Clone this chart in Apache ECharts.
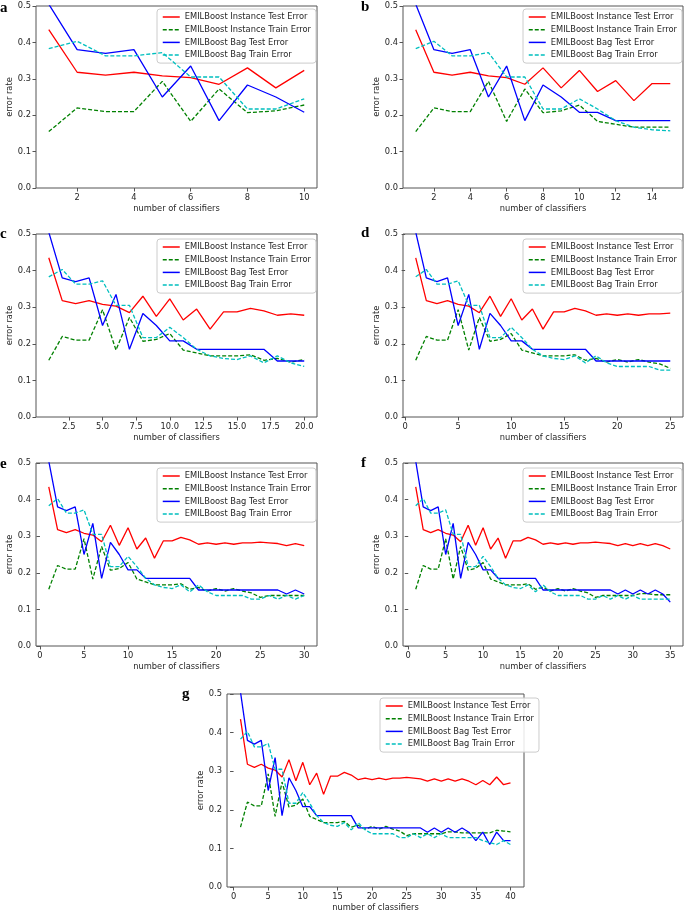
<!DOCTYPE html>
<html>
<head>
<meta charset="utf-8">
<script src="https://cdn.jsdelivr.net/npm/echarts@6/dist/echarts.min.js"></script>
<style>
  html, body { margin: 0; padding: 0; background: #fff; }
  #main { width: 685px; height: 913px; }
</style>
</head>
<body>
<div id="main"></div>
<script>
// error rates for 1..40 classifiers (every panel shows the first n of these)
var instTest = [0.435,0.318,0.31,0.318,0.308,0.303,0.285,0.33,0.275,0.323,
                0.265,0.295,0.24,0.287,0.287,0.297,0.29,0.278,0.282,0.278,
                0.282,0.278,0.282,0.282,0.284,0.282,0.28,0.274,0.28,0.274,
                0.28,0.274,0.28,0.274,0.265,0.276,0.265,0.285,0.265,0.27];
var instTrain = [0.155,0.22,0.21,0.21,0.293,0.183,0.272,0.207,0.212,0.228,
                 0.183,0.175,0.167,0.167,0.167,0.17,0.155,0.16,0.15,0.157,
                 0.15,0.157,0.15,0.145,0.133,0.138,0.138,0.138,0.138,0.138,
                 0.143,0.143,0.14,0.14,0.14,0.14,0.14,0.147,0.145,0.143];
var bagTest = [0.505,0.38,0.37,0.38,0.25,0.335,0.185,0.283,0.25,0.208,
               0.208,0.185,0.185,0.185,0.185,0.185,0.185,0.153,0.153,0.153,
               0.153,0.153,0.153,0.153,0.153,0.153,0.153,0.142,0.153,0.142,
               0.153,0.142,0.153,0.142,0.12,0.142,0.11,0.142,0.12,0.12];
var bagTrain = [0.383,0.403,0.363,0.363,0.372,0.305,0.305,0.217,0.217,0.245,
                0.217,0.185,0.167,0.16,0.157,0.167,0.148,0.167,0.148,0.138,
                0.138,0.138,0.138,0.128,0.128,0.138,0.128,0.138,0.128,0.138,
                0.128,0.128,0.128,0.128,0.128,0.12,0.115,0.11,0.12,0.11];

var seriesNames = ['EMILBoost Instance Test Error', 'EMILBoost Instance Train Error',
                   'EMILBoost Bag Test Error', 'EMILBoost Bag Train Error'];
var panelLetters = ['a', 'b', 'c', 'd', 'e', 'f', 'g'];
var panelCounts = [10, 15, 20, 25, 30, 35, 40];
var xTicks = [
    [2, 4, 6, 8, 10],
    [2, 4, 6, 8, 10, 12, 14],
    [2.5, 5, 7.5, 10, 12.5, 15, 17.5, 20],
    [0, 5, 10, 15, 20, 25],
    [0, 5, 10, 15, 20, 25, 30],
    [0, 5, 10, 15, 20, 25, 30, 35],
    [0, 5, 10, 15, 20, 25, 30, 35, 40]
];
var yTicks = [0, 0.1, 0.2, 0.3, 0.4, 0.5];

// layout of each panel: plot box, legend box, letter
var layout = [
    {l: 36,  t: 6,   w: 281, h: 182, lgL: 157, lgT: 9,   lx: 0,   ly: 1},
    {l: 403, t: 6,   w: 280, h: 182, lgL: 523, lgT: 9,   lx: 361, ly: 0},
    {l: 36,  t: 234, w: 281, h: 183, lgL: 157, lgT: 239, lx: 0,   ly: 227},
    {l: 403, t: 234, w: 280, h: 183, lgL: 523, lgT: 239, lx: 361, ly: 226},
    {l: 36,  t: 463, w: 281, h: 183, lgL: 157, lgT: 468, lx: 0,   ly: 457},
    {l: 403, t: 463, w: 280, h: 183, lgL: 523, lgT: 468, lx: 361, ly: 456},
    {l: 227, t: 694, w: 297, h: 193, lgL: 380, lgT: 698, lx: 182, ly: 687}
];

var styles = [
    {color: '#ff0000', type: 'solid'},
    {color: '#008000', type: [4, 2]},
    {color: '#0000ff', type: 'solid'},
    {color: '#00bfbf', type: [4, 2]}
];
var allData = [instTest, instTrain, bagTest, bagTrain];
var FONT = 'DejaVu Sans';
var textCol = '#262626';
var axisCol = '#555';

var grids = [], xAxes = [], yAxes = [], legends = [], series = [], graphics = [];

layout.forEach(function (p, k) {
    var n = panelCounts[k];
    var pad = 0.05 * (n - 1);
    grids.push({left: p.l, top: p.t, width: p.w, height: p.h, show: true,
        borderColor: axisCol, borderWidth: 1, backgroundColor: '#fff'});
    xAxes.push({
        type: 'value', gridIndex: k, min: 1 - pad, max: n + pad,
        name: 'number of classifiers', nameLocation: 'middle', nameGap: 17,
        nameTextStyle: {color: textCol, fontFamily: FONT, fontSize: 8.3, verticalAlign: 'top'},
        axisLine: {show: false},
        axisTick: {show: true, length: 3.5, customValues: xTicks[k], lineStyle: {color: axisCol}},
        axisLabel: {show: true, margin: 6, customValues: xTicks[k], color: textCol,
            fontFamily: FONT, fontSize: 8.3,
            formatter: function (v) { return k === 2 ? v.toFixed(1) : String(v); }},
        splitLine: {show: false}
    });
    yAxes.push({
        type: 'value', gridIndex: k, min: 0, max: 0.5,
        name: 'error rate', nameLocation: 'middle', nameGap: 22,
        nameTextStyle: {color: textCol, fontFamily: FONT, fontSize: 8.3},
        axisLine: {show: false},
        axisTick: {show: true, length: 3.5, customValues: yTicks, lineStyle: {color: axisCol}},
        axisLabel: {show: true, margin: 5, customValues: yTicks, color: textCol,
            fontFamily: FONT, fontSize: 8.3,
            formatter: function (v) { return v.toFixed(1); }},
        splitLine: {show: false}
    });
    legends.push({
        orient: 'vertical', left: p.lgL, top: p.lgT,
        data: seriesNames, selectedMode: false,
        backgroundColor: 'rgba(255,255,255,0.85)', borderColor: '#cccccc',
        borderWidth: 1, borderRadius: 3, padding: [3, 5, 3, 5],
        itemWidth: 17, itemHeight: 10, itemGap: 2.7,
        // hide the circle marker, keep the line sample
        itemStyle: {color: 'rgba(0,0,0,0)', borderWidth: 0, opacity: 0},
        lineStyle: {width: 1.5},
        textStyle: {color: textCol, fontFamily: FONT, fontSize: 8.3, lineHeight: 10}
    });
    allData.forEach(function (arr, s) {
        series.push({
            name: seriesNames[s], type: 'line', xAxisIndex: k, yAxisIndex: k,
            symbol: 'none', clip: true, animation: false, z: 2 + s,
            lineStyle: {color: styles[s].color, width: 1.3, type: styles[s].type},
            itemStyle: {color: styles[s].color},
            data: arr.slice(0, n).map(function (v, i) { return [i + 1, v]; })
        });
    });
    graphics.push({
        type: 'text', left: p.lx, top: p.ly,
        style: {text: panelLetters[k], font: 'bold 15px "Liberation Serif"', fill: '#000'}
    });
});

var chart = echarts.init(document.getElementById('main'), null, {renderer: 'canvas'});
chart.setOption({
    animation: false,
    grid: grids,
    xAxis: xAxes,
    yAxis: yAxes,
    legend: legends,
    series: series,
    graphic: graphics
});
</script>
</body>
</html>
